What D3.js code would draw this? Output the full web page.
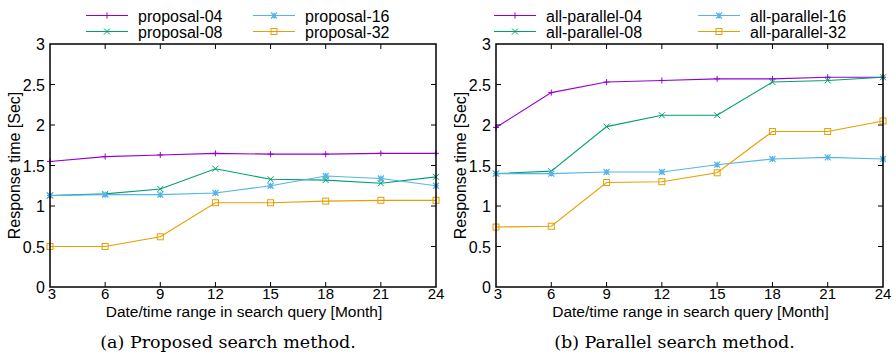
<!DOCTYPE html>
<html>
<head>
<meta charset="utf-8">
<script src="https://cdn.jsdelivr.net/npm/d3@7"></script>
<style>
  body { margin: 0; background: #fff; }
  svg { display: block; }
  .tick-label { font-family: "Liberation Sans", Arial, sans-serif; font-size: 16px; fill: #000; }
  .xtick-label { font-family: "Liberation Sans", Arial, sans-serif; font-size: 15px; fill: #000; }
  .axis-title { font-family: "Liberation Sans", Arial, sans-serif; font-size: 16px; fill: #000; }
  .x-title { font-family: "Liberation Sans", Arial, sans-serif; font-size: 15.5px; fill: #000; }
  .legend-text { font-family: "Liberation Sans", Arial, sans-serif; font-size: 16px; fill: #000; }
  .caption { font-family: "DejaVu Serif", "Liberation Serif", serif; font-size: 17.5px; fill: #000; }
</style>
</head>
<body>
<div id="chart"></div>
<script>
// --- Data ---
const months = [3, 6, 9, 12, 15, 18, 21, 24];
const yTicks = [0, 0.5, 1, 1.5, 2, 2.5, 3];

const proposal04 = [1.55, 1.61, 1.63, 1.65, 1.64, 1.64, 1.65, 1.65];
const proposal08 = [1.13, 1.15, 1.21, 1.46, 1.33, 1.32, 1.28, 1.36];
const proposal16 = [1.13, 1.14, 1.14, 1.16, 1.25, 1.37, 1.34, 1.25];
const proposal32 = [0.50, 0.50, 0.62, 1.04, 1.04, 1.06, 1.07, 1.07];

const parallel04 = [1.97, 2.40, 2.53, 2.55, 2.57, 2.57, 2.59, 2.59];
const parallel08 = [1.40, 1.43, 1.98, 2.12, 2.12, 2.53, 2.55, 2.59];
const parallel16 = [1.40, 1.40, 1.42, 1.42, 1.51, 1.58, 1.60, 1.58];
const parallel32 = [0.74, 0.75, 1.29, 1.30, 1.41, 1.92, 1.92, 2.05];

const colors = ["#9400d3", "#009e73", "#56b4e9", "#e69f00"];
const markers = ["plus", "cross", "star", "square"];

const panels = [
    {
        left: 50, right: 436,
        caption: "(a)  Proposed search method.",
        names: ["proposal-04", "proposal-08", "proposal-16", "proposal-32"],
        series: [proposal04, proposal08, proposal16, proposal32],
        legendX: [86, 253]
    },
    {
        left: 496, right: 883,
        caption: "(b)  Parallel search method.",
        names: ["all-parallel-04", "all-parallel-08", "all-parallel-16", "all-parallel-32"],
        series: [parallel04, parallel08, parallel16, parallel32],
        legendX: [494, 698]
    }
];

const width = 896, height = 356;
const plotTop = 44, plotBottom = 287;

const svg = d3.select("#chart").append("svg")
    .attr("width", width)
    .attr("height", height);

function drawMarker(g, type, x, y, color) {
    const s = 3;
    if (type === "plus") {
        g.append("path").attr("d", `M${x - s},${y}H${x + s}M${x},${y - s}V${y + s}`)
            .attr("stroke", color).attr("stroke-width", 1).attr("fill", "none");
    } else if (type === "cross") {
        g.append("path").attr("d", `M${x - s},${y - s}L${x + s},${y + s}M${x - s},${y + s}L${x + s},${y - s}`)
            .attr("stroke", color).attr("stroke-width", 1).attr("fill", "none");
    } else if (type === "star") {
        g.append("path").attr("d", `M${x - s},${y}H${x + s}M${x},${y - s}V${y + s}M${x - s},${y - s}L${x + s},${y + s}M${x - s},${y + s}L${x + s},${y - s}`)
            .attr("stroke", color).attr("stroke-width", 1.2).attr("fill", "none");
    } else {
        g.append("rect").attr("x", x - s).attr("y", y - s).attr("width", 2 * s).attr("height", 2 * s)
            .attr("stroke", color).attr("stroke-width", 1).attr("fill", "none");
    }
}

panels.forEach(p => {
    const g = svg.append("g");
    const x = d3.scaleLinear().domain([3, 24]).range([p.left, p.right]);
    const y = d3.scaleLinear().domain([0, 3]).range([plotBottom, plotTop]);

    // ticks (inward, mirrored)
    months.forEach(m => {
        if (m === 3 || m === 24) return;
        g.append("line").attr("x1", x(m)).attr("x2", x(m)).attr("y1", plotBottom).attr("y2", plotBottom - 5).attr("stroke", "#000");
        g.append("line").attr("x1", x(m)).attr("x2", x(m)).attr("y1", plotTop).attr("y2", plotTop + 5).attr("stroke", "#000");
    });
    yTicks.forEach(v => {
        if (v === 0 || v === 3) return;
        g.append("line").attr("x1", p.left).attr("x2", p.left + 5).attr("y1", y(v)).attr("y2", y(v)).attr("stroke", "#000");
        g.append("line").attr("x1", p.right).attr("x2", p.right - 5).attr("y1", y(v)).attr("y2", y(v)).attr("stroke", "#000");
    });

    // tick labels
    g.selectAll(".ytl").data(yTicks).join("text")
        .attr("class", "tick-label")
        .attr("x", p.left - 5).attr("y", d => y(d) + 6)
        .attr("text-anchor", "end")
        .text(d => d);
    g.selectAll(".xtl").data(months).join("text")
        .attr("class", "xtick-label")
        .attr("x", d => x(d) + (d === 3 ? 2 : 0)).attr("y", plotBottom + 12)
        .attr("text-anchor", "middle")
        .text(d => d);

    // axis titles
    g.append("text").attr("class", "x-title")
        .attr("x", (p.left + p.right) / 2 + 1).attr("y", plotBottom + 29.5)
        .attr("text-anchor", "middle")
        .text("Date/time range in search query [Month]");
    g.append("text").attr("class", "axis-title")
        .attr("transform", `translate(${p.left - 30},${(plotTop + plotBottom) / 2}) rotate(-90)`)
        .attr("text-anchor", "middle")
        .text("Response time [Sec]");

    // lines and markers
    const line = d3.line().x((d, i) => x(months[i])).y(d => y(d));
    p.series.forEach((s, k) => {
        g.append("path").datum(s).attr("d", line)
            .attr("fill", "none").attr("stroke", colors[k]).attr("stroke-width", 1.1);
        s.forEach((v, i) => drawMarker(g, markers[k], x(months[i]), y(v), colors[k]));
    });

    // frame
    g.append("rect").attr("x", p.left).attr("y", plotTop)
        .attr("width", p.right - p.left).attr("height", plotBottom - plotTop)
        .attr("fill", "none").attr("stroke", "#000").attr("stroke-width", 1.5);

    // legend
    p.names.forEach((name, k) => {
        const lx = p.legendX[Math.floor(k / 2)];
        const ly = k % 2 === 0 ? 15.5 : 31.5;
        g.append("line").attr("x1", lx).attr("x2", lx + 42).attr("y1", ly).attr("y2", ly)
            .attr("stroke", colors[k]).attr("stroke-width", 1.1);
        drawMarker(g, markers[k], lx + 21, ly, colors[k]);
        g.append("text").attr("class", "legend-text")
            .attr("x", lx + 52).attr("y", ly + 6)
            .text(name);
    });

    // caption
    g.append("text").attr("class", "caption")
        .attr("x", (p.left + p.right) / 2 - 15).attr("y", 348)
        .attr("text-anchor", "middle")
        .text(p.caption);
});
</script>
</body>
</html>
